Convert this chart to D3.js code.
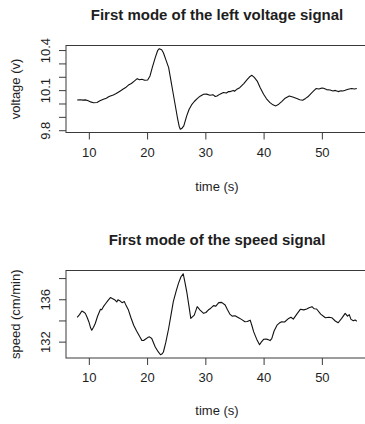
<!DOCTYPE html>
<html>
<head>
<meta charset="utf-8">
<script src="https://cdn.jsdelivr.net/npm/d3@7"></script>
<style>
  body { margin: 0; background: #fff; }
  svg { display: block; }
</style>
</head>
<body>
<div id="chart"></div>
<script>
// first mode of the left voltage signal
var voltageTime = [8.0, 8.5, 9.0, 9.4, 9.9, 10.3, 10.8, 11.4, 11.9, 12.5, 13.0, 13.4, 13.7, 14.2, 14.7, 15.4, 15.9, 16.4, 16.8, 17.3,
  17.8, 18.3, 18.7, 19.1, 19.6, 20.1, 20.5, 20.9, 21.4, 21.8, 22.1, 22.5, 22.8, 23.2, 23.7, 24.1, 24.5, 24.9, 25.2, 25.5,
  25.7, 26.0, 26.3, 26.8, 27.2, 27.7, 28.1, 28.6, 29.1, 29.7, 30.2, 30.8, 31.3, 31.7, 32.0, 32.5, 33.1, 33.6, 34.0, 34.3,
  34.8, 35.0, 35.4, 35.9, 36.6, 37.2, 37.6, 38.0, 38.4, 38.9, 39.4, 40.0, 40.5, 41.1, 41.6, 42.1, 42.6, 43.1, 43.7, 44.4,
  45.0, 45.7, 46.2, 46.7, 47.2, 47.6, 48.0, 48.5, 49.0, 49.5, 50.0, 50.3, 50.8, 51.4, 51.9, 52.3, 52.8, 53.3, 53.6, 54.0,
  54.5, 55.1, 55.6, 56.0];
var voltage = [10.026, 10.028, 10.025, 10.027, 10.020, 10.012, 10.006, 10.008, 10.020, 10.032, 10.040, 10.050, 10.056, 10.064, 10.075, 10.094, 10.108, 10.122, 10.138, 10.150,
  10.168, 10.186, 10.178, 10.182, 10.174, 10.176, 10.206, 10.270, 10.343, 10.395, 10.410, 10.402, 10.380, 10.330, 10.268, 10.170, 10.069, 9.970, 9.895, 9.830,
  9.807, 9.815, 9.832, 9.907, 9.955, 9.994, 10.015, 10.037, 10.055, 10.069, 10.070, 10.062, 10.066, 10.052, 10.056, 10.070, 10.082, 10.078, 10.090, 10.089,
  10.098, 10.092, 10.106, 10.118, 10.149, 10.180, 10.200, 10.211, 10.195, 10.168, 10.120, 10.069, 10.035, 10.007, 9.990, 9.982, 9.995, 10.014, 10.040, 10.056,
  10.048, 10.037, 10.028, 10.024, 10.038, 10.050, 10.069, 10.090, 10.112, 10.108, 10.116, 10.114, 10.104, 10.101, 10.094, 10.098, 10.089, 10.096, 10.094, 10.099,
  10.106, 10.112, 10.109, 10.112];

// first mode of the speed signal
var speedTime = [8.0, 8.4, 8.8, 9.1, 9.4, 9.7, 10.0, 10.3, 10.5, 10.8, 11.1, 11.5, 12.0, 12.2, 12.5, 12.9, 13.3, 13.7, 14.1, 14.5,
  14.8, 15.0, 15.3, 15.7, 16.1, 16.4, 16.8, 17.2, 17.7, 18.2, 18.7, 19.1, 19.4, 19.7, 20.1, 20.4, 20.8, 21.1, 21.4, 21.9,
  22.3, 22.6, 22.8, 23.2, 23.7, 24.1, 24.5, 25.0, 25.4, 25.8, 26.2, 26.5, 26.8, 27.2, 27.5, 28.1, 28.6, 29.1, 29.7, 30.1,
  30.5, 30.8, 31.4, 31.8, 32.3, 32.8, 33.4, 33.8, 34.2, 34.6, 35.1, 35.7, 36.2, 36.8, 37.2, 37.7, 38.0, 38.3, 38.9, 39.3,
  39.6, 40.0, 40.4, 40.8, 41.1, 41.4, 41.8, 42.3, 42.7, 43.1, 43.6, 44.3, 44.7, 45.1, 45.7, 46.3, 46.9, 47.4, 47.8, 48.3,
  48.7, 49.1, 49.8, 50.6, 51.2, 51.7, 52.3, 52.8, 53.4, 54.0, 54.4, 54.7, 55.0, 55.4, 55.7, 56.0];
var speed = [134.29, 134.55, 134.89, 134.80, 134.67, 134.30, 133.88, 133.30, 133.08, 133.35, 133.71, 134.40, 135.05, 135.00, 135.30, 135.60, 135.90, 136.16, 136.05, 135.93,
  135.75, 135.95, 135.87, 135.68, 135.78, 135.40, 134.98, 134.30, 133.55, 133.00, 132.50, 132.12, 132.10, 132.22, 132.38, 132.45, 132.29, 131.90, 131.50, 131.05,
  130.76, 130.85, 131.02, 131.90, 133.24, 134.50, 135.78, 136.80, 137.52, 138.10, 138.41, 137.60, 136.73, 135.30, 134.19, 134.50, 135.30, 134.98, 134.67, 134.75,
  134.98, 135.10, 135.40, 135.35, 135.68, 135.71, 135.46, 135.00, 134.60, 134.41, 134.45, 134.26, 134.10, 133.88, 133.90, 134.03, 133.50, 132.92, 132.12, 131.71,
  131.95, 132.22, 132.25, 132.19, 132.10, 132.29, 133.00, 133.55, 133.75, 133.88, 133.85, 134.19, 134.30, 134.12, 134.60, 135.05, 135.00, 135.08, 135.20, 135.30,
  135.10, 135.08, 134.60, 134.26, 134.30, 134.26, 133.95, 133.78, 134.20, 134.67, 134.40, 134.55, 134.10, 133.97, 134.05, 133.93];

var timeTicks = [10, 20, 30, 40, 50];
var voltageTicks = [9.8, 9.9, 10.0, 10.1, 10.2, 10.3, 10.4];
var voltageLabels = [9.8, 10.1, 10.4];
var speedTicks = [132, 134, 136, 138];
var speedLabels = [132, 136];

var full_width = 365;
var full_height = 424;
var font = "'Liberation Sans', Arial, sans-serif";
var axisColor = "#3a3a3a";
var textColor = "#1e1e1e";

var svg = d3.select("#chart")
  .append("svg")
    .attr("width", full_width)
    .attr("height", full_height);

// R style range: data extent padded by 4% each side
function padded(values) {
  var ext = d3.extent(values);
  var pad = (ext[1] - ext[0]) * 0.04;
  return [ext[0] - pad, ext[1] + pad];
}

function drawPanel(p) {
  var x = d3.scaleLinear()
    .domain(padded(p.time))
    .range([p.left, p.right]);
  var y = d3.scaleLinear()
    .domain(padded(p.values))
    .range([p.bottom, p.top]);

  // title
  svg.append("text")
    .attr("x", (p.left + p.right) / 2)
    .attr("y", p.titleY)
    .style("text-anchor", "middle")
    .style("font", "bold 15px " + font)
    .style("fill", textColor)
    .text(p.title);

  // x axis
  var xAxis = svg.append("g")
    .attr("transform", "translate(0," + p.bottom + ")")
    .call(d3.axisBottom(x)
            .tickValues(timeTicks)
            .tickSize(7)
            .tickPadding(8)
            .tickFormat(d3.format("d")));
  xAxis.select(".domain").remove();
  xAxis.selectAll("line").attr("stroke", axisColor);
  xAxis.selectAll("text")
    .style("font", "13px " + font)
    .style("fill", textColor);

  svg.append("text")
    .attr("x", (p.left + p.right) / 2)
    .attr("y", p.xTitleY)
    .style("text-anchor", "middle")
    .style("font", "13px " + font)
    .style("fill", textColor)
    .text("time (s)");

  // y axis, labels parallel to the axis like R's las=0
  var yAxis = svg.append("g")
    .attr("transform", "translate(" + p.left + ",0)")
    .call(d3.axisLeft(y)
            .tickValues(p.ticks)
            .tickSize(7)
            .tickFormat(function(d) {
              return p.labels.some(function(l) { return Math.abs(l - d) < 1e-9; }) ? d3.format("")(d) : "";
            }));
  yAxis.select(".domain").remove();
  yAxis.selectAll("line").attr("stroke", axisColor);
  yAxis.selectAll("text")
    .attr("x", null)
    .attr("dy", null)
    .attr("transform", "translate(-16,0) rotate(-90)")
    .style("text-anchor", "middle")
    .style("font", "13px " + font)
    .style("fill", textColor);

  svg.append("text")
    .attr("transform", "translate(20," + (p.top + p.bottom) / 2 + ") rotate(-90)")
    .style("text-anchor", "middle")
    .style("font", "13px " + font)
    .style("fill", textColor)
    .text(p.yTitle);

  // the signal
  var line = d3.line()
    .x(function(d, i) { return x(p.time[i]); })
    .y(function(d) { return y(d); });

  svg.append("path")
    .attr("d", line(p.values))
    .style("fill", "none")
    .style("stroke", "#111")
    .style("stroke-width", 1.1)
    .style("stroke-linejoin", "round");

  // plot box
  svg.append("rect")
    .attr("x", p.left)
    .attr("y", p.top)
    .attr("width", p.right - p.left)
    .attr("height", p.bottom - p.top)
    .style("fill", "none")
    .style("stroke", axisColor)
    .style("stroke-width", 1);
}

drawPanel({
  title: "First mode of the left voltage signal",
  yTitle: "voltage (v)",
  time: voltageTime, values: voltage,
  ticks: voltageTicks, labels: voltageLabels,
  left: 66, right: 368, top: 45.5, bottom: 132.5,
  titleY: 20, xTitleY: 191
});

drawPanel({
  title: "First mode of the speed signal",
  yTitle: "speed (cm/min)",
  time: speedTime, values: speed,
  ticks: speedTicks, labels: speedLabels,
  left: 66, right: 368, top: 270.5, bottom: 358,
  titleY: 245, xTitleY: 415
});
</script>
</body>
</html>
